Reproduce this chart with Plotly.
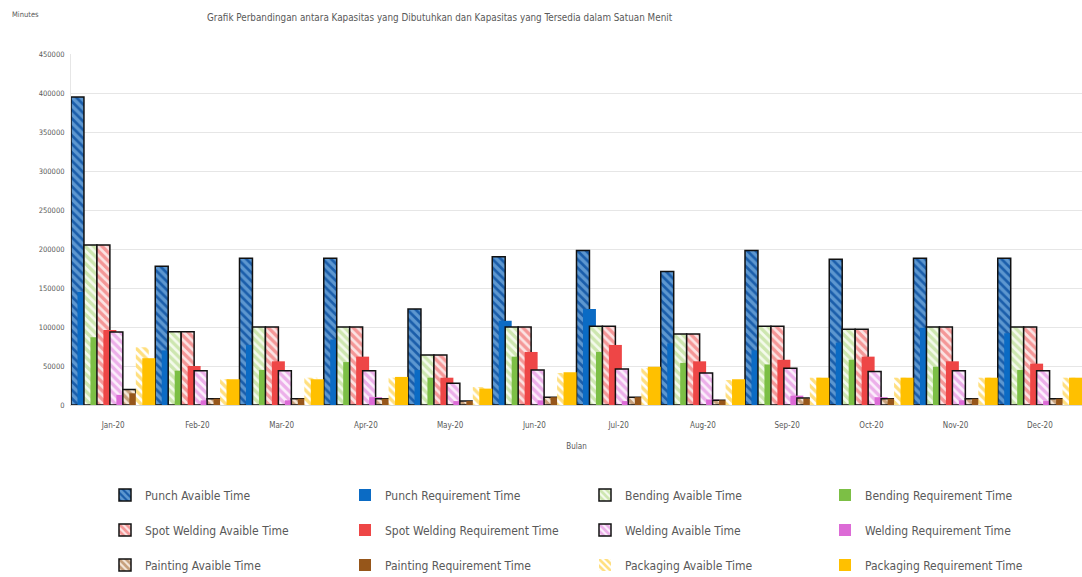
import plotly.graph_objects as go

months = ["Jan-20", "Feb-20", "Mar-20", "Apr-20", "May-20", "Jun-20",
          "Jul-20", "Aug-20", "Sep-20", "Oct-20", "Nov-20", "Dec-20"]

punch_avail = [395000, 178000, 188000, 188000, 123000, 190000, 198000, 171000, 198000, 187000, 188000, 188000]
punch_req = [145000, 70000, 77000, 84000, 45000, 108000, 123000, 79000, 70000, 80000, 99000, 92000]
bending_avail = [205000, 94000, 100000, 100000, 64000, 100000, 101000, 91000, 101000, 97000, 100000, 100000]
bending_req = [87000, 44000, 45000, 55000, 35000, 62000, 68000, 54000, 52000, 58000, 49000, 45000]
spot_avail = [205000, 94000, 100000, 100000, 64000, 100000, 101000, 91000, 101000, 97000, 100000, 100000]
spot_req = [96000, 50000, 56000, 62000, 35000, 68000, 77000, 56000, 58000, 62000, 56000, 53000]
welding_avail = [93500, 44000, 44000, 44000, 28000, 45000, 46000, 41000, 47000, 43000, 44000, 44000]
welding_req = [13000, 6000, 6000, 10000, 5000, 6000, 5000, 7000, 12000, 10000, 6000, 5000]
painting_avail = [20000, 8000, 8000, 8000, 5000, 10000, 10000, 6000, 9000, 8000, 8000, 8000]
painting_req = [15000, 8000, 8000, 8000, 5000, 10000, 10000, 6000, 8000, 8000, 8000, 8000]
packaging_avail = [74000, 33000, 35000, 35000, 23000, 41000, 47000, 32000, 35000, 35000, 35000, 35000]
packaging_req = [60000, 33000, 33000, 36000, 21000, 42000, 49000, 33000, 35000, 35000, 35000, 35000]

series = [
    ("Punch Avaible Time", punch_avail, "avail", "#1A5DAA", "#9FD2F6", "#111111"),
    ("Punch Requirement Time", punch_req, "req", "#0B6BC4", None, None),
    ("Bending Avaible Time", bending_avail, "avail", "#F4FAEC", "#A5D271", "#111111"),
    ("Bending Requirement Time", bending_req, "req", "#7CBF45", None, None),
    ("Spot Welding Avaible Time", spot_avail, "avail", "#FBE3E3", "#EE4B4B", "#111111"),
    ("Spot Welding Requirement Time", spot_req, "req", "#EE4646", None, None),
    ("Welding Avaible Time", welding_avail, "avail", "#FBEFFB", "#DD6FD8", "#111111"),
    ("Welding Requirement Time", welding_req, "req", "#DC6BD6", None, None),
    ("Painting Avaible Time", painting_avail, "avail", "#F3E6D8", "#9A5A1E", "#111111"),
    ("Painting Requirement Time", painting_req, "req", "#96561A", None, None),
    ("Packaging Avaible Time", packaging_avail, "avail", "#FFFFFF", "#FFC000", None),
    ("Packaging Requirement Time", packaging_req, "req", "#FFC000", None, None),
]

FONT = "Liberation Sans Narrow, DejaVu Sans Condensed, Arial Narrow, sans-serif"
GREY = "#595959"

n = len(series)
step = 1.0 / (n + 1)
width = 2 * step

fig = go.Figure()
for i, (name, vals, kind, bg, fg, border) in enumerate(series):
    legend_id = ["legend", "legend2", "legend3"][i // 4]
    if kind == "avail":
        marker = dict(
            color=bg,
            pattern=dict(shape="\\", fgcolor=fg, bgcolor=bg, fillmode="overlay",
                         size=6, solidity=0.55),
            line=dict(color=border if border else "rgba(0,0,0,0)", width=1.5 if border else 0),
        )
    else:
        marker = dict(color=bg, line=dict(width=0))
    fig.add_trace(go.Bar(
        x=months, y=vals, name=name, marker=marker,
        offset=-0.5 + i * step, width=width, legend=legend_id,
    ))

legend_common = dict(
    orientation="h", xanchor="left", yanchor="middle",
    font=dict(family=FONT, size=12, color=GREY),
    entrywidthmode="pixels", entrywidth=195,
    bgcolor="rgba(0,0,0,0)", itemclick=False, itemdoubleclick=False,
)
lx = (105 - 71) / 1011

fig.update_layout(
    width=1082, height=577,
    margin=dict(l=71, r=0, t=54, b=172, autoexpand=False),
    paper_bgcolor="white", plot_bgcolor="white",
    barmode="overlay",
    showlegend=True,
    legend=dict(x=lx, y=-90 / 351, **legend_common),
    legend2=dict(x=lx, y=-125 / 351, **legend_common),
    legend3=dict(x=lx, y=-160 / 351, **legend_common),
    font=dict(family=FONT, color=GREY),
    xaxis=dict(
        type="category", showgrid=False, showline=True, linecolor="#D9D9D9", linewidth=1,
        ticks="", ticklabelstandoff=12, tickfont=dict(family=FONT, size=8, color=GREY),
        title=dict(text="Bulan", font=dict(family=FONT, size=8, color=GREY), standoff=14),
        range=[-0.5, 11.5],
    ),
    yaxis=dict(
        range=[0, 450000], dtick=50000, tickformat="d",
        showgrid=True, gridcolor="#E6E6E6", gridwidth=1,
        showline=True, linecolor="#E6E6E6", zeroline=False,
        ticklabelstandoff=4,
        tickfont=dict(family=FONT, size=7.5, color=GREY),
    ),
    annotations=[
        dict(text="Minutes", xref="paper", yref="paper", x=(10 - 71) / 1011, y=(405 - 15) / 351,
             xanchor="left", yanchor="middle", showarrow=False,
             font=dict(family=FONT, size=7.5, color=GREY)),
        dict(text="Grafik Perbandingan antara Kapasitas yang Dibutuhkan dan Kapasitas yang Tersedia dalam Satuan Menit",
             xref="paper", yref="paper", x=(205 - 71) / 1011, y=(405 - 18) / 351,
             xanchor="left", yanchor="middle", showarrow=False,
             font=dict(family=FONT, size=9.8, color=GREY)),
    ],
)

fig.write_html("out.html")
